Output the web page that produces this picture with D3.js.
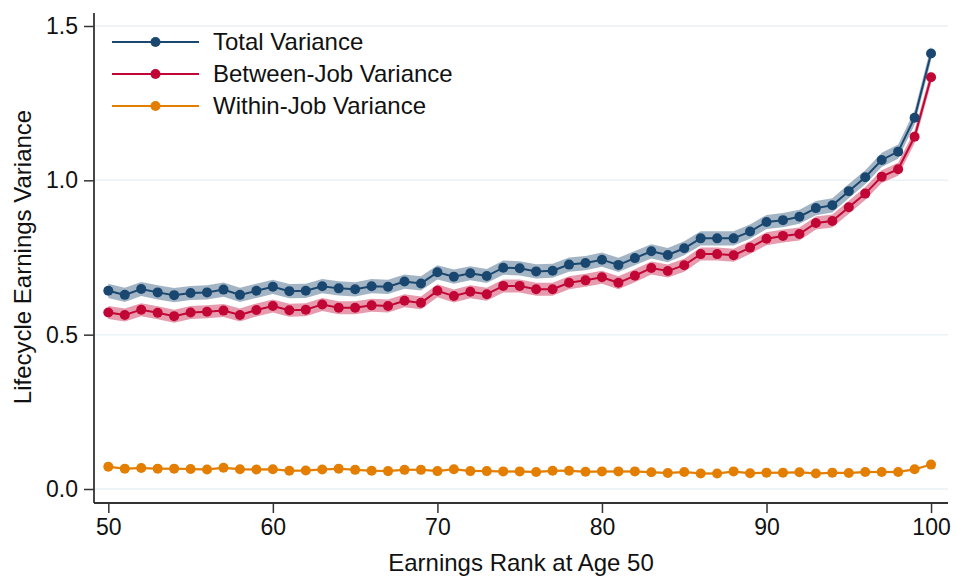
<!DOCTYPE html>
<html>
<head>
<meta charset="utf-8">
<script src="https://cdn.jsdelivr.net/npm/d3@7"></script>
<style>
  body { margin: 0; background: #fff; }
  svg text { font-family: "Liberation Sans", Arial, sans-serif; fill: #111; }
</style>
</head>
<body>
<div id="chart"></div>
<script>
// earnings rank at age 50
const ranks = d3.range(50, 101);

const totalVar = [
  0.642, 0.629, 0.648, 0.637, 0.628, 0.635, 0.637, 0.646, 0.629, 0.642,
  0.655, 0.641, 0.642, 0.657, 0.650, 0.647, 0.657, 0.655, 0.672, 0.666,
  0.702, 0.688, 0.699, 0.690, 0.717, 0.715, 0.705, 0.707, 0.727, 0.732,
  0.743, 0.726, 0.748, 0.770, 0.758, 0.780, 0.812, 0.812, 0.812, 0.834,
  0.865, 0.871, 0.882, 0.910, 0.919, 0.965, 1.010, 1.066, 1.093, 1.203,
  1.411
];
const betweenVar = [
  0.572, 0.564, 0.581, 0.571, 0.560, 0.572, 0.574, 0.578, 0.564, 0.580,
  0.593, 0.579, 0.581, 0.598, 0.587, 0.587, 0.595, 0.593, 0.610, 0.603,
  0.642, 0.625, 0.639, 0.631, 0.658, 0.658, 0.647, 0.647, 0.668, 0.676,
  0.686, 0.668, 0.691, 0.716, 0.706, 0.725, 0.761, 0.761, 0.757, 0.782,
  0.811, 0.820, 0.826, 0.862, 0.868, 0.913, 0.957, 1.012, 1.036, 1.141,
  1.334
];
const withinVar = [
  0.072, 0.066, 0.068, 0.066, 0.066, 0.065, 0.063, 0.069, 0.064, 0.063,
  0.064, 0.059, 0.060, 0.063, 0.066, 0.062, 0.059, 0.058, 0.062, 0.062,
  0.058, 0.064, 0.058, 0.058, 0.057, 0.057, 0.055, 0.059, 0.059, 0.056,
  0.057, 0.057, 0.057, 0.054, 0.052, 0.055, 0.050, 0.050, 0.057, 0.051,
  0.053, 0.053, 0.054, 0.050, 0.053, 0.052, 0.055, 0.055, 0.055, 0.064,
  0.079
];

// approximate half-width of the shaded confidence bands
const bandHalf = { total: 0.023, between: 0.021, within: 0.004 };

const seriesNames = ['Total Variance', 'Between-Job Variance', 'Within-Job Variance'];
const colors      = ['#1a476f', '#c10534', '#e37e00'];
const yTicks      = [0, 0.5, 1.0, 1.5];
const xTicks      = [50, 60, 70, 80, 90, 100];

const widthContainer  = 955;
const heightContainer = 578;
const plot = {left: 94, right: 948, top: 13, bottom: 503};
const tickFont  = 23;
const titleFont = 24;

const series = [
  {name: seriesNames[0], values: totalVar,   half: bandHalf.total,   color: colors[0]},
  {name: seriesNames[1], values: betweenVar, half: bandHalf.between, color: colors[1]},
  {name: seriesNames[2], values: withinVar,  half: bandHalf.within,  color: colors[2]}
];

const svg = d3.select('#chart')
  .append('svg')
  .attr('width',  widthContainer)
  .attr('height', heightContainer);

const xScale = d3.scaleLinear()
  .domain([49.13, 101.03])
  .range([plot.left, plot.right]);

const yScale = d3.scaleLinear()
  .domain([0, 1.5])
  .range([489, 26]);

// gridlines
svg.append('g')
  .selectAll('line')
  .data(yTicks)
  .enter()
  .append('line')
    .attr('x1', plot.left)
    .attr('x2', plot.right)
    .attr('y1', d => yScale(d))
    .attr('y2', d => yScale(d))
    .style('stroke', '#eaf2f3')
    .style('stroke-width', 1.5);

// bands
const area = d3.area()
  .x((d, i) => xScale(ranks[i]))
  .y0(d => yScale(d.lo))
  .y1(d => yScale(d.hi));

const line = d3.line()
  .x((d, i) => xScale(ranks[i]))
  .y(d => yScale(d));

series.slice().reverse().forEach(s => {
  svg.append('path')
    .datum(s.values.map(v => ({lo: v - s.half, hi: v + s.half})))
    .attr('d', area)
    .style('fill', s.color)
    .style('opacity', 0.4);
});

series.slice().reverse().forEach(s => {
  svg.append('path')
    .datum(s.values)
    .attr('d', line)
    .style('fill', 'none')
    .style('stroke', s.color)
    .style('stroke-width', 2);

  svg.append('g')
    .selectAll('circle')
    .data(s.values)
    .enter()
    .append('circle')
      .attr('cx', (d, i) => xScale(ranks[i]))
      .attr('cy', d => yScale(d))
      .attr('r', 5)
      .style('fill', s.color);
});

// y-axis
const yAxis = svg.append('g')
  .attr('transform', `translate(${plot.left}, 0)`)
  .call(d3.axisLeft(yScale).tickValues(yTicks).tickFormat(d3.format('.1f')).tickSize(10).tickPadding(6));
yAxis.select('.domain').remove();
yAxis.selectAll('.tick line').style('stroke', '#333').style('stroke-width', 1.5);
yAxis.selectAll('text').style('font-size', tickFont + 'px').style('fill', '#111');
svg.append('line')
  .attr('x1', plot.left).attr('x2', plot.left)
  .attr('y1', plot.top).attr('y2', plot.bottom)
  .style('stroke', '#333').style('stroke-width', 1.8);

// x-axis
const xAxis = svg.append('g')
  .attr('transform', `translate(0, ${plot.bottom})`)
  .call(d3.axisBottom(xScale).tickValues(xTicks).tickSize(10).tickPadding(6));
xAxis.select('.domain').remove();
xAxis.selectAll('.tick line').style('stroke', '#333').style('stroke-width', 1.5);
xAxis.selectAll('text').style('font-size', tickFont + 'px').style('fill', '#111');
svg.append('line')
  .attr('x1', plot.left).attr('x2', plot.right)
  .attr('y1', plot.bottom).attr('y2', plot.bottom)
  .style('stroke', '#333').style('stroke-width', 1.8);

// axis titles
svg.append('text')
  .attr('x', 521)
  .attr('y', 571)
  .style('text-anchor', 'middle')
  .style('font-size', titleFont + 'px')
  .text('Earnings Rank at Age 50');

svg.append('text')
  .attr('transform', 'rotate(-90)')
  .attr('x', -257)
  .attr('y', 31)
  .style('text-anchor', 'middle')
  .style('font-size', titleFont + 'px')
  .text('Lifecycle Earnings Variance');

// legend
const legend = svg.append('g')
  .selectAll('g')
  .data(series)
  .enter()
  .append('g')
    .attr('transform', (d, i) => `translate(112, ${42 + i * 32})`);

legend.append('line')
  .attr('x1', 0).attr('x2', 87)
  .style('stroke', d => d.color)
  .style('stroke-width', 2);

legend.append('circle')
  .attr('cx', 43.5)
  .attr('r', 5)
  .style('fill', d => d.color);

legend.append('text')
  .attr('x', 101)
  .attr('dy', '0.35em')
  .style('font-size', titleFont + 'px')
  .text(d => d.name);
</script>
</body>
</html>
